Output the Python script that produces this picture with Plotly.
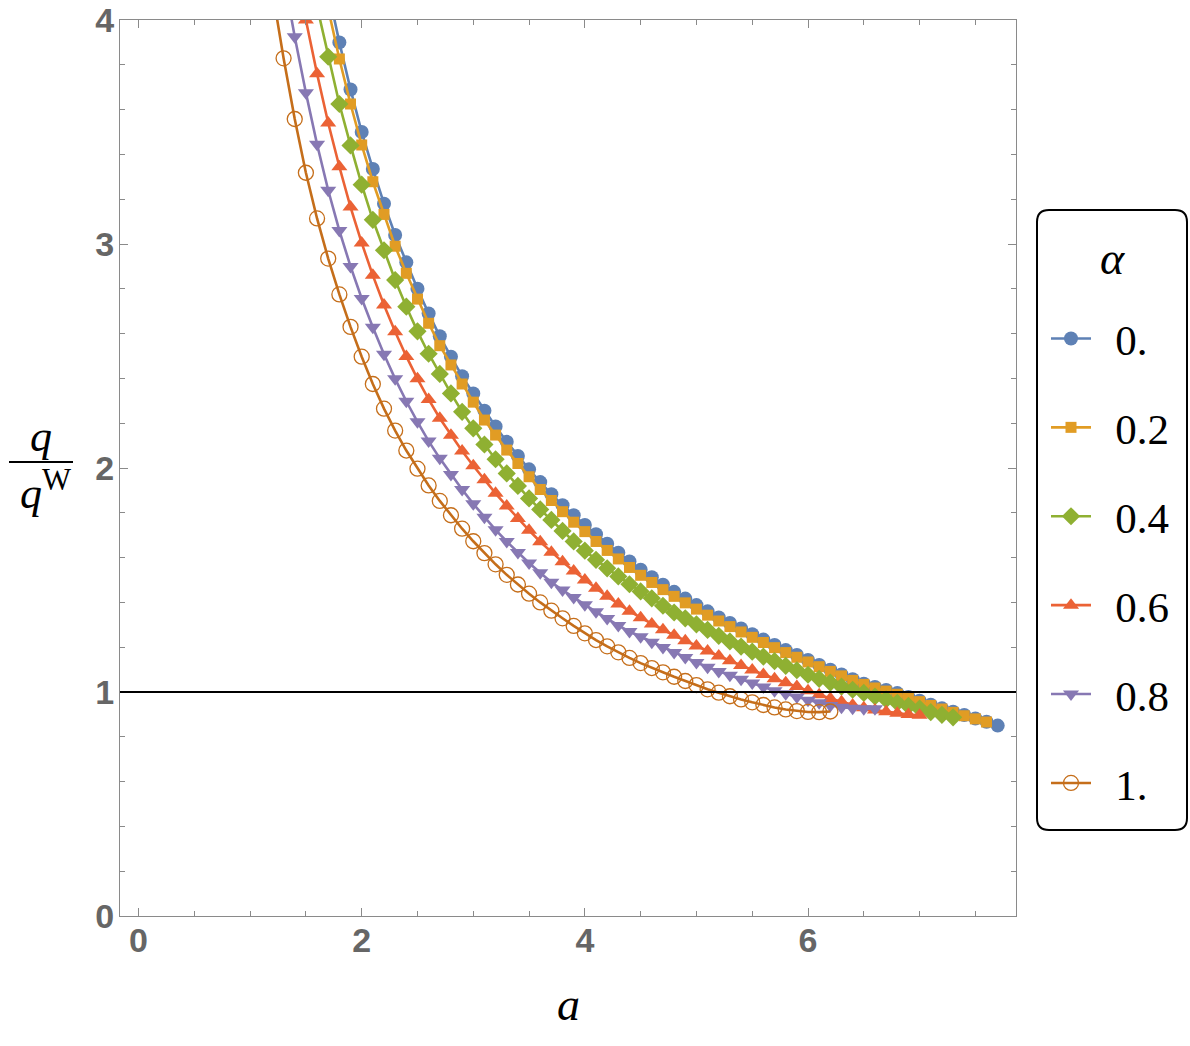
import plotly.graph_objects as go

# ---- data ----
alphas = ["0.", "0.2", "0.4", "0.6", "0.8", "1."]
a_start = [1.7, 1.7, 1.6, 1.5, 1.3, 1.2]

q_a00 = [4.13, 3.90, 3.69, 3.50, 3.335, 3.18, 3.04, 2.918, 2.80, 2.69,
         2.588, 2.497, 2.41, 2.333, 2.256, 2.185, 2.117, 2.054, 1.994, 1.937,
         1.883, 1.834, 1.789, 1.746, 1.704, 1.662, 1.622, 1.583, 1.546, 1.512,
         1.479, 1.447, 1.417, 1.388, 1.360, 1.333, 1.308, 1.284, 1.258, 1.234,
         1.210, 1.187, 1.165, 1.143, 1.121, 1.099, 1.078, 1.057, 1.037, 1.022,
         1.009, 0.995, 0.978, 0.961, 0.943, 0.927, 0.912, 0.897, 0.882, 0.867,
         0.850]
q_a02 = [4.05, 3.826, 3.625, 3.442, 3.278, 3.132, 2.99, 2.869, 2.754, 2.646,
         2.546, 2.46, 2.375, 2.294, 2.214, 2.147, 2.08, 2.02, 1.961, 1.904,
         1.855, 1.805, 1.758, 1.716, 1.672, 1.632, 1.594, 1.556, 1.521, 1.489,
         1.457, 1.427, 1.398, 1.370, 1.343, 1.317, 1.292, 1.268, 1.244, 1.221,
         1.198, 1.176, 1.155, 1.134, 1.113, 1.092, 1.072, 1.052, 1.034, 1.018,
         1.004, 0.990, 0.973, 0.957, 0.940, 0.924, 0.909, 0.894, 0.880, 0.866]
q_a04 = [4.06, 3.836, 3.625, 3.44, 3.265, 3.108, 2.972, 2.839, 2.72, 2.61,
         2.51, 2.42, 2.333, 2.251, 2.177, 2.105, 2.039, 1.976, 1.92, 1.864,
         1.815, 1.768, 1.719, 1.672, 1.631, 1.590, 1.552, 1.516, 1.481, 1.449,
         1.418, 1.385, 1.355, 1.329, 1.302, 1.277, 1.251, 1.226, 1.203, 1.180,
         1.158, 1.138, 1.117, 1.097, 1.077, 1.059, 1.042, 1.024, 1.010, 0.996,
         0.980, 0.967, 0.952, 0.938, 0.926, 0.910, 0.898, 0.887]
q_a06 = [4.00, 3.76, 3.54, 3.345, 3.165, 3.005, 2.860, 2.728, 2.608, 2.498,
         2.398, 2.306, 2.222, 2.146, 2.076, 2.010, 1.947, 1.887, 1.830, 1.775,
         1.722, 1.671, 1.624, 1.581, 1.540, 1.500, 1.463, 1.427, 1.393, 1.361,
         1.332, 1.304, 1.278, 1.253, 1.229, 1.205, 1.183, 1.161, 1.139, 1.118,
         1.098, 1.078, 1.059, 1.041, 1.024, 1.006, 0.988, 0.971, 0.956, 0.942,
         0.930, 0.920, 0.912, 0.905, 0.899, 0.896]
q_a08 = [4.20, 3.925, 3.675, 3.445, 3.240, 3.060, 2.900, 2.757, 2.628, 2.508,
         2.398, 2.298, 2.206, 2.120, 2.043, 1.971, 1.904, 1.840, 1.780, 1.724,
         1.672, 1.623, 1.576, 1.532, 1.490, 1.455, 1.422, 1.390, 1.358, 1.328,
         1.297, 1.270, 1.247, 1.222, 1.199, 1.176, 1.154, 1.132, 1.111, 1.092,
         1.075, 1.057, 1.040, 1.022, 1.006, 0.992, 0.978, 0.963, 0.952, 0.940,
         0.932, 0.927, 0.925, 0.925]
q_a10 = [4.13, 3.829, 3.558, 3.318, 3.114, 2.935, 2.775, 2.630, 2.497, 2.375,
         2.265, 2.167, 2.078, 1.997, 1.922, 1.853, 1.789, 1.729, 1.673, 1.620,
         1.570, 1.523, 1.480, 1.439, 1.400, 1.363, 1.329, 1.295, 1.262, 1.232,
         1.204, 1.177, 1.152, 1.129, 1.107, 1.088, 1.068, 1.049, 1.031, 1.012,
         0.997, 0.981, 0.967, 0.954, 0.942, 0.931, 0.922, 0.915, 0.911, 0.910,
         0.913]
series_q = [q_a00, q_a02, q_a04, q_a06, q_a08, q_a10]

x_tick_vals = [0, 2, 4, 6]
y_tick_vals = [0, 1, 2, 3, 4]
reference_level = 1.0

# ---- styling ----
colors = ["#5E81B5", "#E19C24", "#8FB032", "#EB6235", "#8778B3", "#C56E1A"]
symbols = ["circle", "square", "diamond", "triangle-up", "triangle-down", "circle-open"]
sizes = [14, 11, 14, 14, 14, 15]

W, H = 1190, 1046
L, R, T, B = 120, 174, 20, 130
pw, ph = W - L - R, H - T - B


def px(xp):
    return (xp - L) / pw


def py(yp):
    return (H - B - yp) / ph


serif = "Liberation Serif"

fig = go.Figure()
for i, (lab, q) in enumerate(zip(alphas, series_q)):
    a_vals = [round(a_start[i] + 0.1 * k, 1) for k in range(len(q))]
    mk = dict(symbol=symbols[i], size=sizes[i], color=colors[i])
    if symbols[i] == "circle-open":
        mk["line"] = dict(color=colors[i], width=1.3)
    else:
        mk["line"] = dict(width=0)
    fig.add_trace(go.Scatter(
        x=a_vals, y=q, mode="lines+markers", name="\u00a0\u2009" + lab,
        legendgroup=lab,
        line=dict(color=colors[i], width=2.6),
        marker=mk,
    ))

axis_common = dict(
    showline=True, linecolor="#8a8a8a", linewidth=1, mirror="allticks",
    ticks="inside", ticklen=8, tickwidth=1, tickcolor="#8a8a8a",
    showgrid=False, zeroline=False, automargin=False,
    tickfont=dict(family="Liberation Sans", size=34, color="#666666", weight="bold"),
)

fig.update_xaxes(range=[-0.166, 7.864], tickvals=x_tick_vals,
                 minor=dict(dtick=0.5, tick0=0, ticks="inside", ticklen=5,
                            tickcolor="#8a8a8a", showgrid=False),
                 ticklabelstandoff=-6, **axis_common)
fig.update_yaxes(range=[0, 4], tickvals=y_tick_vals,
                 minor=dict(dtick=0.2, tick0=0, ticks="inside", ticklen=5,
                            tickcolor="#8a8a8a", showgrid=False),
                 ticklabelstandoff=-2, **axis_common)

ann = []
ann.append(dict(text="<i>a</i>", x=px(568), y=py(1004), xref="paper", yref="paper",
                showarrow=False, font=dict(family=serif, size=46, color="black"),
                xanchor="center", yanchor="middle"))
ann.append(dict(text="<i>q</i>", x=px(41), y=py(436), xref="paper", yref="paper",
                showarrow=False, font=dict(family=serif, size=44, color="black"),
                xanchor="center", yanchor="middle"))
ann.append(dict(text="<i>q</i><sup>W</sup>", x=px(45), y=py(490), xref="paper", yref="paper",
                showarrow=False, font=dict(family=serif, size=44, color="black"),
                xanchor="center", yanchor="middle"))
ann.append(dict(text="<i>α</i>", x=px(1112), y=py(258), xref="paper", yref="paper",
                showarrow=False, font=dict(family=serif, size=46, color="black"),
                xanchor="center", yanchor="middle"))

shapes = []
shapes.append(dict(type="line", xref="paper", yref="y",
                   x0=0, x1=1, y0=reference_level, y1=reference_level,
                   line=dict(color="black", width=2), layer="above"))
shapes.append(dict(type="path", xref="paper", yref="paper",
                   path=f"M {px(9)},{py(462)} L {px(73)},{py(462)}",
                   line=dict(color="black", width=2)))
# rounded legend frame
x0, x1, y0, y1 = px(1037), px(1187), py(830), py(210)
r = 12 / pw
path = (f"M {x0 + r},{y0} L {x1 - r},{y0} Q {x1},{y0} {x1},{y0 + r} "
        f"L {x1},{y1 - r} Q {x1},{y1} {x1 - r},{y1} L {x0 + r},{y1} "
        f"Q {x0},{y1} {x0},{y1 - r} L {x0},{y0 + r} Q {x0},{y0} {x0 + r},{y0} Z")
shapes.append(dict(type="path", xref="paper", yref="paper", path=path,
                   line=dict(color="black", width=2)))

fig.update_layout(
    width=W, height=H,
    margin=dict(l=L, r=R, t=T, b=B, autoexpand=False),
    paper_bgcolor="white", plot_bgcolor="white",
    showlegend=True,
    legend=dict(x=px(1046), y=py(304), xanchor="left", yanchor="top",
                bgcolor="rgba(0,0,0,0)", borderwidth=0,
                font=dict(family=serif, size=43, color="black"),
                itemwidth=40, tracegroupgap=30, traceorder="grouped"),
    annotations=ann, shapes=shapes,
)

fig.write_html("out.html")
